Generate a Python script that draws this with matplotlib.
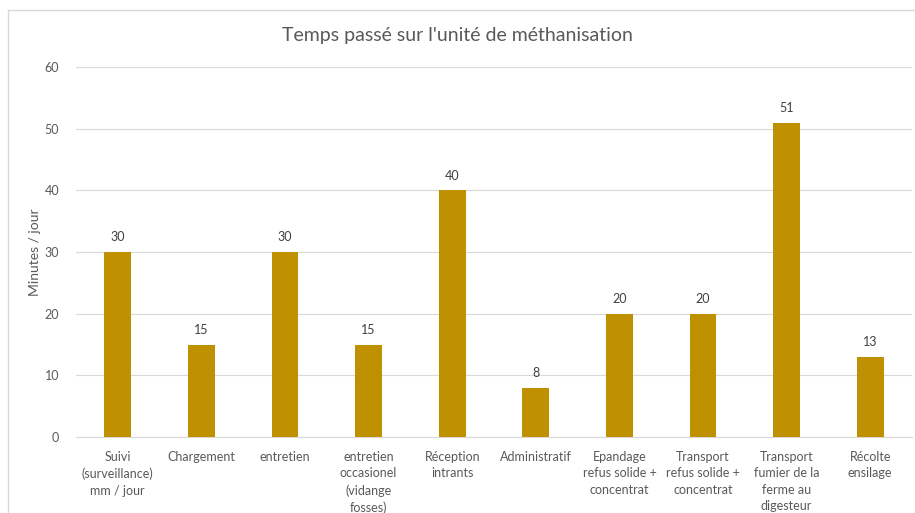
import matplotlib.pyplot as plt
import matplotlib.patches as mpatches
from matplotlib.ticker import MultipleLocator

# Data
categories = ['Suivi\n(surveillance)\nmm / jour', 'Chargement', 'entretien',
              'entretien\noccasionel\n(vidange\nfosses)', 'Réception\nintrants',
              'Administratif', 'Epandage\nrefus solide +\nconcentrat',
              'Transport\nrefus solide +\nconcentrat',
              'Transport\nfumier de la\nferme au\ndigesteur', 'Récolte\nensilage']
minutes = [30, 15, 30, 15, 40, 8, 20, 20, 51, 13]

plt.rcParams['font.family'] = ['Lato', 'DejaVu Sans']
txt = '#595959'

fig = plt.figure(figsize=(9.15, 5.13), dpi=100)
# chart border (only top/left visible in the crop)
fig.patches.append(mpatches.Rectangle((8 / 915, -0.1), 1.2, 1 - 10 / 513 + 0.1,
                                      transform=fig.transFigure, fill=False,
                                      edgecolor='#d9d9d9', linewidth=1))
ax = fig.add_axes([76 / 915, 1 - 437 / 513, (912 - 76) / 915, (437 - 67) / 513])

x = range(len(categories))
bars = ax.bar(x, minutes, width=0.32, color='#BF9000', zorder=3)
for b, v in zip(bars, minutes):
    ax.text(b.get_x() + b.get_width() / 2, v + 1.4, str(v), ha='center', va='bottom',
            fontsize=9, color='#404040')

ax.set_xlim(-0.5, len(categories) - 0.5)
ax.set_ylim(0, 60)
ax.yaxis.set_major_locator(MultipleLocator(10))
ax.grid(axis='y', color='#d9d9d9', linewidth=0.8, zorder=0)
ax.set_xticks(list(x))
ax.set_xticklabels(categories, fontsize=9, color=txt, linespacing=1.45, va='top')
ax.tick_params(axis='x', length=0, pad=10)
ax.tick_params(axis='y', length=0, labelsize=9, labelcolor=txt, pad=12)
for s in ['top', 'right', 'left']:
    ax.spines[s].set_visible(False)
ax.spines['bottom'].set_color('#d9d9d9')
ax.set_ylabel('Minutes / jour', fontsize=10, color=txt, labelpad=3)

fig.text(0.5, 1 - 36 / 513, "Temps passé sur l'unité de méthanisation", ha='center',
         va='center', fontsize=14, color=txt)

fig.savefig('out.png', dpi=100)
